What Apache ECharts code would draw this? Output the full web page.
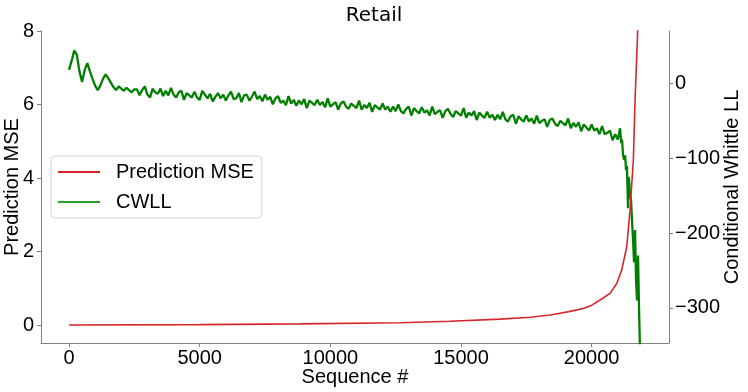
<!DOCTYPE html>
<html>
<head>
<meta charset="utf-8">
<script src="https://cdn.jsdelivr.net/npm/echarts@6/dist/echarts.min.js"></script>
<style>
html,body{margin:0;padding:0;background:#fff;}
#chart{width:748px;height:392px;}
</style>
</head>
<body>
<div id="chart"></div>
<script>
// ---- Data ----
var titleText = 'Retail';
var xTicks = [0, 5000, 10000, 15000, 20000];
var mseTicks = [0, 2, 4, 6, 8];
var cwllTicks = [-300, -200, -100, 0];

// Prediction MSE (left axis)
var mseSeq = [0, 5000, 8840, 12667, 14581, 16494, 17643, 18408, 18790, 19173, 19683, 20004, 20322, 20704, 20960, 21152, 21343, 21470, 21596, 21661, 21764, 21850];
var mse    = [0.0, 0.01, 0.03, 0.06, 0.1, 0.16, 0.21, 0.27, 0.32, 0.37, 0.45, 0.54, 0.68, 0.86, 1.13, 1.5, 2.13, 3.13, 4.49, 6.12, 8.03, 11.5];

// CWLL (right axis), main part sampled every 100 sequences (0 .. 21000)
var cwllStep = 100;
var cwllMain = [
  18, 30, 44, 38, 16, 2, 18, 27, 16, 6,
  -3, -9, -3, 6, 12, 7, 1, -5, -9, -4,
  -7, -10, -6, -9, -12, -8,
  -8, -16, -9, -4, -15, -19, -7, -12, -14, -7,
  -17, -10, -16, -6, -15, -19, -12, -10, -22, -13,
  -16, -19, -11, -19, -22, -10, -15, -20, -14, -24,
  -18, -13, -20, -15, -23, -16, -11, -21, -20, -13,
  -25, -16, -15, -23, -18, -11, -21, -17, -24, -15,
  -22, -18, -28, -20, -17, -26, -23, -29, -17, -27,
  -22, -30, -23, -28, -21, -33, -23, -26, -29, -22,
  -29, -25, -32, -20, -31, -28, -25, -35, -27, -24,
  -31, -34, -27, -30, -33, -23, -35, -29, -33, -26,
  -38, -29, -32, -35, -27, -35, -31, -38, -31, -37,
  -28, -37, -40, -34, -31, -43, -33, -37, -40, -32,
  -39, -36, -43, -31, -41, -38, -36, -46, -37, -34,
  -41, -45, -37, -40, -43, -33, -46, -39, -43, -37,
  -49, -39, -43, -46, -38, -46, -42, -49, -42, -48,
  -38, -48, -51, -44, -42, -54, -44, -48, -51, -43,
  -51, -47, -54, -43, -53, -50, -48, -58, -49, -47,
  -54, -57, -50, -53, -56, -47, -60, -53, -58, -52,
  -64, -55, -59, -63, -55, -63, -60, -68, -57, -68,
  -66, -63, -76, -68, -75
];
// CWLL tail (steep drop at the end)
var cwllTailSeq = [21087, 21130, 21163, 21200, 21240, 21280, 21316, 21350, 21393, 21412, 21431, 21470, 21508, 21540, 21584, 21622, 21661, 21699, 21737, 21775, 21813, 21852];
var cwllTail    = [-60, -80, -75, -95, -102, -96, -116, -110, -167, -125, -129, -150, -156, -180, -209, -239, -196, -263, -290, -230, -300, -360];

// ---- Build series ----
var msePts = mseSeq.map(function (s, i) { return [s, mse[i]]; });
var cwllPts = cwllMain.map(function (v, i) { return [i * cwllStep, v]; });
cwllTailSeq.forEach(function (s, i) { cwllPts.push([s, cwllTail[i]]); });

var FONT = 'Liberation Sans, Arial, sans-serif';
var axisGray = '#808080';

var chart = echarts.init(document.getElementById('chart'), null, {renderer: 'canvas'});
chart.setOption({
  animation: false,
  backgroundColor: '#fff',
  title: {
    text: titleText,
    left: 'center',
    top: 1,
    textStyle: {fontFamily: 'DejaVu Sans', fontSize: 20, fontWeight: 'normal', color: '#000'}
  },
  grid: {left: 41, right: 79, top: 31, bottom: 49, containLabel: false, outerBoundsMode: 'none'},
  legend: {
    left: 51, top: 156,
    orient: 'vertical',
    backgroundColor: 'rgba(255,255,255,0.8)',
    borderColor: '#d6d6d6', borderWidth: 1, borderRadius: 4,
    padding: [6, 8, 6, 7],
    itemGap: 10,
    itemWidth: 42, itemHeight: 2,
    icon: 'rect',
    textStyle: {fontFamily: FONT, fontSize: 20, color: '#000', padding: [0, 0, 0, 11]},
    data: [
      {name: 'Prediction MSE', itemStyle: {color: '#d62728'}},
      {name: 'CWLL', itemStyle: {color: '#2ca02c'}}
    ]
  },
  xAxis: {
    type: 'value',
    min: -1072, max: 22960,
    name: 'Sequence #', nameLocation: 'middle', nameGap: 24, nameMoveOverlap: false,
    nameTextStyle: {fontFamily: FONT, fontSize: 20, color: '#000'},
    axisLine: {show: true, onZero: false, lineStyle: {color: axisGray, width: 1}},
    axisTick: {show: true, length: 4, lineStyle: {color: axisGray}, customValues: xTicks},
    axisLabel: {fontFamily: FONT, fontSize: 20, color: '#000', margin: 5, customValues: xTicks,
      formatter: function (v) { return String(v); }},
    splitLine: {show: false}
  },
  yAxis: [{
    type: 'value',
    position: 'left',
    min: -0.49, max: 8,
    name: 'Prediction MSE', nameLocation: 'middle', nameGap: 19, nameRotate: 90, nameMoveOverlap: false,
    nameTextStyle: {fontFamily: FONT, fontSize: 20, color: '#000'},
    axisLine: {show: true, onZero: false, lineStyle: {color: axisGray, width: 1}},
    axisTick: {show: true, length: 4, lineStyle: {color: axisGray}, customValues: mseTicks},
    axisLabel: {fontFamily: FONT, fontSize: 20, color: '#000', margin: 7, customValues: mseTicks},
    splitLine: {show: false}
  }, {
    type: 'value',
    position: 'right',
    min: -347, max: 70,
    name: 'Conditional Whittle LL', nameLocation: 'middle', nameGap: 53, nameRotate: 90, nameMoveOverlap: false,
    nameTextStyle: {fontFamily: FONT, fontSize: 20, color: '#000'},
    axisLine: {show: true, onZero: false, lineStyle: {color: axisGray, width: 1}},
    axisTick: {show: true, length: 4, lineStyle: {color: axisGray}, customValues: cwllTicks},
    axisLabel: {
      fontFamily: FONT, fontSize: 20, color: '#000', margin: 6, customValues: cwllTicks,
      formatter: function (v) { return v < 0 ? '\u2212' + Math.abs(v) : String(v); }
    },
    splitLine: {show: false}
  }],
  series: [{
    name: 'Prediction MSE',
    type: 'line',
    yAxisIndex: 0,
    data: msePts,
    showSymbol: false,
    smooth: false,
    clip: true,
    lineStyle: {color: '#d62728', width: 1.6},
    itemStyle: {color: '#d62728'},
    z: 3
  }, {
    name: 'CWLL',
    type: 'line',
    yAxisIndex: 1,
    data: cwllPts,
    showSymbol: false,
    clip: true,
    lineStyle: {color: '#008000', width: 2.3},
    itemStyle: {color: '#008000'},
    z: 2
  }]
});
</script>
</body>
</html>
